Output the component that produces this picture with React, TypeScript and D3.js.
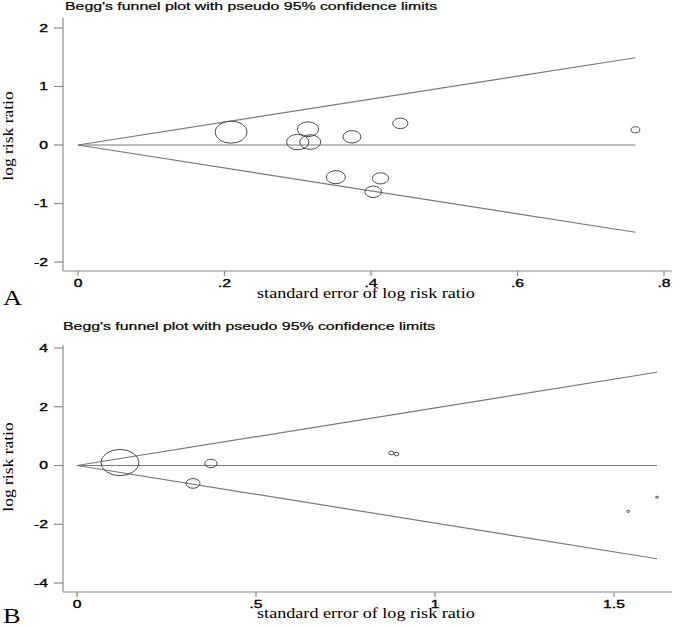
import React, { useRef, useEffect } from 'react';
import * as d3 from 'd3';

// panel A: standard error vs log risk ratio
const seA = [0.209, 0.314, 0.3, 0.317, 0.374, 0.44, 0.352, 0.413, 0.403, 0.761];
const logRrA = [0.22, 0.27, 0.05, 0.05, 0.14, 0.37, -0.55, -0.57, -0.8, 0.26];
const xTicksA = [0, 0.2, 0.4, 0.6, 0.8];
const xTickLabelsA = ['0', '.2', '.4', '.6', '.8'];
const yTicksA = [-2, -1, 0, 1, 2];
const pooledA = 0;

// panel B
const seB = [0.12, 0.374, 0.324, 0.878, 0.892, 1.54, 1.62];
const logRrB = [0.1, 0.07, -0.61, 0.43, 0.39, -1.56, -1.08];
const xTicksB = [0, 0.5, 1, 1.5];
const xTickLabelsB = ['0', '.5', '1', '1.5'];
const yTicksB = [-4, -2, 0, 2, 4];
const pooledB = 0;

const titleText = "Begg's funnel plot with pseudo 95% confidence limits";
const xLabelText = 'standard error of log risk ratio';
const yLabelText = 'log risk ratio';

const SANS = "'Liberation Sans', Arial, sans-serif";
const SERIF = "'Liberation Serif', 'Times New Roman', serif";

const panels = [
  {
    se: seA, lrr: logRrA, pooled: pooledA, xTicks: xTicksA, xTickLabels: xTickLabelsA, yTicks: yTicksA,
    xDomain: [0, 0.8], xRange: [78, 664], yDomain: [-2, 2], yRange: [262, 28],
    axisLeft: 63, axisRight: 672, axisBottom: 271, axisTop: 18,
    titleX: 65, titleY: 10, maxR: 16, xLabelY: 298, letter: 'A', letterY: 305, yLabelMid: 136,
  },
  {
    se: seB, lrr: logRrB, pooled: pooledB, xTicks: xTicksB, xTickLabels: xTickLabelsB, yTicks: yTicksB,
    xDomain: [0, 1.5], xRange: [77, 614], yDomain: [-4, 4], yRange: [583, 348],
    axisLeft: 63, axisRight: 672, axisBottom: 592, axisTop: 345,
    titleX: 63, titleY: 329.5, maxR: 19, xLabelY: 618, letter: 'B', letterY: 623, yLabelMid: 467,
  },
];

const stretchText = (g, str, x, y, opts) => {
  const { size, family, sx = 1, anchor = 'start', rotate = 0, sy = 1, stroke = 0 } = opts;
  const t = g
    .append('text')
    .attr('transform', `translate(${x},${y}) rotate(${rotate}) scale(${sx},${sy})`)
    .attr('font-family', family)
    .attr('font-size', size)
    .attr('text-anchor', anchor)
    .attr('fill', '#000')
    .text(str);
  if (stroke) t.attr('stroke', '#000').attr('stroke-width', stroke);
  return t;
};

const drawPanel = (svg, p) => {
  const g = svg.append('g');
  const x = d3.scaleLinear().domain(p.xDomain).range(p.xRange);
  const y = d3.scaleLinear().domain(p.yDomain).range(p.yRange);
  const w = p.se.map((s) => 1 / s);
  const r = d3.scaleLinear().domain([0, d3.max(w)]).range([0, p.maxR]);
  const maxSe = d3.max(p.se);

  // axes
  g.append('line')
    .attr('x1', p.axisLeft).attr('x2', p.axisLeft)
    .attr('y1', p.axisTop).attr('y2', p.axisBottom)
    .attr('stroke', '#8a8a8a').attr('stroke-width', 1.2);
  g.append('line')
    .attr('x1', p.axisLeft).attr('x2', p.axisRight)
    .attr('y1', p.axisBottom).attr('y2', p.axisBottom)
    .attr('stroke', '#8a8a8a').attr('stroke-width', 1.2);

  p.yTicks.forEach((t) => {
    g.append('line')
      .attr('x1', p.axisLeft - 9).attr('x2', p.axisLeft)
      .attr('y1', y(t)).attr('y2', y(t))
      .attr('stroke', '#8a8a8a').attr('stroke-width', 1.2);
    stretchText(g, String(t), 48, y(t) + 3.8, { size: 10.8, family: SANS, sx: 1.45, anchor: 'end', stroke: 0.35 });
  });
  p.xTicks.forEach((t, i) => {
    g.append('line')
      .attr('x1', x(t)).attr('x2', x(t))
      .attr('y1', p.axisBottom).attr('y2', p.axisBottom + 5)
      .attr('stroke', '#8a8a8a').attr('stroke-width', 1.2);
    stretchText(g, p.xTickLabels[i], x(t), p.axisBottom + 15.5, { size: 10.8, family: SANS, sx: 1.45, anchor: 'middle', stroke: 0.35 });
  });

  // funnel and pooled line
  const line = d3.line().x((d) => x(d[0])).y((d) => y(d[1]));
  const funnel = [
    [[0, p.pooled], [maxSe, p.pooled + 1.96 * maxSe]],
    [[0, p.pooled], [maxSe, p.pooled - 1.96 * maxSe]],
    [[0, p.pooled], [maxSe, p.pooled]],
  ];
  g.selectAll('path.funnel')
    .data(funnel)
    .enter()
    .append('path')
    .attr('class', 'funnel')
    .attr('d', line)
    .attr('fill', 'none')
    .attr('stroke', '#7a7a7a')
    .attr('stroke-width', 1.2);

  // studies
  g.selectAll('ellipse')
    .data(p.se.map((s, i) => ({ s, v: p.lrr[i], w: w[i] })))
    .enter()
    .append('ellipse')
    .attr('cx', (d) => x(d.s))
    .attr('cy', (d) => y(d.v))
    .attr('rx', (d) => r(d.w))
    .attr('ry', (d) => r(d.w) * 0.69)
    .attr('fill', 'none')
    .attr('stroke', '#4a4a4a')
    .attr('stroke-width', 1);

  // text
  stretchText(g, titleText, p.titleX, p.titleY, { size: 10.5, family: SANS, sx: 1.51, stroke: 0.2 });
  stretchText(g, xLabelText, 366, p.xLabelY, { size: 14.5, family: SERIF, sx: 1.25, anchor: 'middle' });
  stretchText(g, yLabelText, 13, p.yLabelMid, { size: 17.5, family: SERIF, rotate: -90, sy: 0.85, anchor: 'middle' });
  stretchText(g, p.letter, 3, p.letterY, { size: 22, family: SERIF, sx: 1.2 });
};

export default function App() {
  const svgEl = useRef(null);

  useEffect(() => {
    const svg = d3.select(svgEl.current);
    svg.selectAll('*').remove();
    svg.append('rect').attr('width', 681).attr('height', 627).attr('fill', '#fff');
    panels.forEach((p) => drawPanel(svg, p));
  }, []);

  return (
    <svg
      ref={svgEl}
      width={681}
      height={627}
      style={{ position: 'absolute', left: 0, top: 0, display: 'block' }}
    ></svg>
  );
}
